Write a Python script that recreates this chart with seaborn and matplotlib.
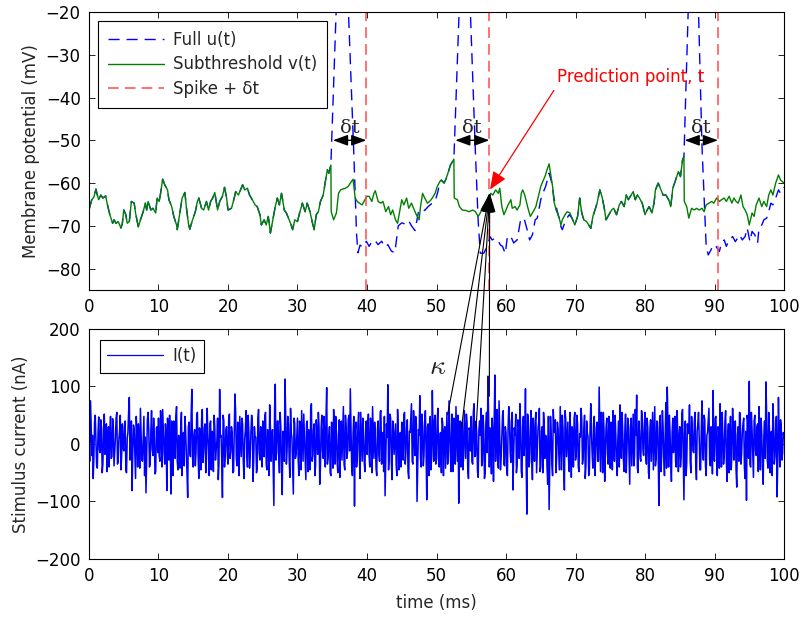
import numpy as np
import pandas as pd
import matplotlib
matplotlib.use("Agg")
import matplotlib.pyplot as plt
import seaborn as sns
from matplotlib.patches import ConnectionPatch

# ---------------- data ----------------
# Subthreshold v(t): (time ms, mV); vertical drops at the spike times
v_trace = [
    (0.0, -66.3), (0.4, -63.9), (0.7, -63.3), (1.0, -61.4), (1.2, -62.8), (1.4, -63.9), (1.7, -62.8),
    (2.0, -63.5), (2.4, -63.0), (2.6, -64.7), (3.0, -67.4), (3.4, -69.4), (3.6, -68.6), (3.9, -69.4),
    (4.2, -69.0), (4.6, -70.5), (4.8, -69.4), (5.0, -66.3), (5.3, -67.4), (5.5, -69.4), (5.8, -69.0),
    (6.1, -64.3), (6.5, -64.7), (6.7, -67.0), (7.1, -70.3), (7.4, -68.6), (7.8, -66.7), (8.1, -64.7),
    (8.3, -66.3), (8.5, -64.3), (8.9, -66.3), (9.2, -65.9), (9.6, -67.0), (9.8, -63.5), (10.1, -64.3),
    (10.3, -62.4), (10.6, -59.1), (10.9, -60.4), (11.3, -61.6), (11.5, -63.9), (11.9, -65.5), (12.2, -67.8),
    (12.6, -69.8), (12.7, -70.9), (13.0, -67.8), (13.4, -63.5), (13.8, -62.2), (14.0, -65.5), (14.3, -69.4),
    (14.5, -70.8), (14.9, -68.6), (15.3, -66.7), (15.6, -64.3), (15.8, -63.5), (16.2, -65.9), (16.5, -66.3),
    (16.9, -64.3), (17.2, -66.3), (17.5, -64.3), (17.8, -63.5), (18.1, -62.2), (18.5, -66.3), (18.8, -64.3),
    (19.2, -63.1), (19.5, -61.0), (19.8, -63.5), (20.0, -66.3), (20.5, -65.9), (20.9, -63.5), (21.1, -62.0),
    (21.5, -62.8), (21.8, -61.6), (22.1, -60.4), (22.4, -61.6), (22.8, -61.2), (23.1, -62.8), (23.5, -63.9),
    (23.9, -65.1), (24.2, -65.5), (24.6, -67.4), (24.8, -69.8), (25.2, -68.6), (25.5, -69.8), (25.8, -67.8),
    (26.1, -71.7), (26.4, -69.0), (26.8, -65.5), (27.1, -63.5), (27.4, -65.1), (27.7, -62.4), (28.1, -66.3),
    (28.4, -67.0), (28.7, -68.2), (29.0, -69.4), (29.3, -70.9), (29.6, -68.6), (30.0, -69.0), (30.3, -67.0),
    (30.7, -64.7), (31.1, -66.7), (31.4, -64.7), (31.8, -66.7), (32.1, -69.0), (32.4, -70.9), (32.7, -67.4),
    (33.0, -66.7), (33.3, -64.3), (33.7, -62.8), (34.0, -59.7), (34.3, -56.9), (34.5, -57.7), (34.8, -55.8),
    (34.85, -66.7), (35.2, -68.6), (35.6, -67.0), (35.9, -62.4), (36.2, -61.6), (36.5, -61.4), (36.9, -61.2),
    (37.3, -60.8), (37.6, -60.0), (38.0, -59.1), (38.3, -63.5), (38.6, -64.3), (38.9, -64.7), (39.3, -65.1),
    (39.7, -63.9), (40.0, -63.1), (40.3, -63.1), (40.7, -64.3), (41.0, -62.4), (41.2, -61.8), (41.6, -64.3),
    (42.0, -64.7), (42.3, -64.3), (42.7, -66.7), (43.1, -65.5), (43.4, -67.4), (43.7, -66.3), (44.1, -68.6),
    (44.4, -69.4), (44.7, -66.7), (45.0, -63.9), (45.3, -65.1), (45.7, -63.5), (46.0, -65.9), (46.4, -64.7),
    (46.8, -66.3), (47.1, -67.4), (47.5, -68.6), (47.7, -65.5), (48.0, -62.4), (48.3, -63.5), (48.7, -64.7),
    (49.0, -64.3), (49.4, -63.5), (49.8, -62.4), (50.1, -60.8), (50.5, -59.6), (50.7, -59.3), (51.1, -60.0),
    (51.4, -58.9), (51.8, -56.9), (52.0, -55.8), (52.3, -55.0), (52.5, -54.4),
    (52.55, -63.5), (53.0, -63.9), (53.3, -65.5), (53.7, -66.3), (54.2, -66.4), (54.7, -66.7), (55.2, -66.3),
    (55.6, -66.7), (56.0, -67.8), (56.4, -66.7), (56.7, -65.5), (57.1, -64.7), (57.5, -63.5), (57.8, -62.4),
    (58.1, -62.8), (58.5, -61.6), (58.9, -62.4), (59.1, -61.2), (59.4, -65.5), (59.7, -67.4), (60.0, -66.3),
    (60.3, -65.1), (60.7, -63.9), (60.9, -65.9), (61.3, -65.5), (61.6, -66.3), (62.0, -65.1), (62.2, -62.4),
    (62.4, -61.6), (62.7, -62.8), (63.1, -65.5), (63.3, -66.7), (63.5, -67.8), (63.9, -66.7), (64.3, -65.5),
    (64.6, -63.5), (65.0, -60.8), (65.3, -59.6), (65.6, -58.5), (65.9, -56.9), (66.2, -55.5), (66.4, -57.7),
    (66.7, -60.8), (66.9, -64.3), (67.2, -66.3), (67.6, -67.8), (67.9, -69.8), (68.1, -68.6), (68.5, -67.4),
    (68.8, -66.7), (69.2, -67.0), (69.5, -68.2), (69.9, -69.8), (70.3, -67.8), (70.6, -63.5), (70.9, -67.0),
    (71.2, -68.6), (71.6, -69.0), (71.9, -69.8), (72.2, -70.6), (72.5, -67.8), (72.8, -66.3), (73.1, -64.7),
    (73.5, -61.6), (73.8, -63.1), (74.1, -65.5), (74.4, -68.6), (74.8, -67.4), (75.2, -66.3), (75.5, -65.9),
    (75.9, -67.4), (76.3, -65.1), (76.6, -64.3), (77.0, -65.5), (77.3, -62.8), (77.6, -63.9), (77.9, -63.1),
    (78.3, -62.0), (78.6, -63.9), (78.9, -62.8), (79.2, -63.5), (79.6, -64.7), (80.0, -67.4), (80.3, -66.3),
    (80.6, -65.5), (81.0, -67.0), (81.3, -64.7), (81.5, -61.6), (81.9, -60.0), (82.3, -61.6), (82.6, -62.8),
    (83.0, -62.8), (83.4, -63.9), (83.7, -65.5), (84.0, -61.2), (84.4, -59.3), (84.8, -57.3), (85.1, -58.5),
    (85.4, -54.6), (85.6, -53.8),
    (85.65, -64.3), (86.0, -65.5), (86.3, -68.2), (86.7, -65.9), (87.1, -66.3), (87.4, -65.9), (87.8, -66.3),
    (88.2, -65.9), (88.5, -66.7), (88.8, -65.1), (89.2, -64.7), (89.6, -64.3), (89.9, -64.7), (90.3, -63.5),
    (90.7, -64.3), (91.0, -63.9), (91.4, -63.5), (91.7, -64.3), (92.1, -63.1), (92.5, -64.7), (92.8, -63.5),
    (93.1, -64.3), (93.4, -64.7), (93.8, -62.8), (94.1, -65.5), (94.4, -66.3), (94.7, -67.4), (95.0, -69.8),
    (95.4, -67.0), (95.7, -67.8), (96.0, -65.1), (96.4, -63.5), (96.8, -65.5), (97.1, -64.3), (97.5, -65.5),
    (97.8, -62.8), (98.1, -61.6), (98.4, -62.8), (98.8, -60.0), (99.2, -58.1), (99.5, -59.3), (100.0, -60.0),
]

# Full u(t) where it departs from v(t): spike + reset and recovery
u_spike1 = [
    (34.8, -55.8), (36.4, 20.0), (38.1, -53.0), (38.5, -72.0), (38.7, -76.3), (39.0, -74.5), (39.4, -75.0),
    (39.9, -73.6), (40.3, -74.8), (40.6, -74.0), (41.1, -73.3), (41.6, -74.4), (42.1, -73.6), (42.6, -75.0),
    (43.0, -74.4), (43.5, -75.9), (44.0, -76.3), (44.5, -70.0), (45.0, -69.3), (45.5, -69.6), (46.0, -68.8),
    (46.4, -70.0), (46.9, -71.1), (47.4, -66.8), (47.9, -66.0), (48.3, -66.4), (48.8, -65.5), (49.3, -64.8),
    (49.8, -64.3), (50.2, -62.0),
]
u_spike2 = [
    (52.5, -54.4), (54.06, 17.0), (55.6, -53.0), (56.0, -69.0), (56.3, -76.4), (56.8, -76.4), (57.3, -74.8),
    (57.7, -72.5), (58.0, -73.3), (58.4, -72.9), (58.8, -73.3), (59.2, -74.5), (59.5, -74.8), (59.9, -76.5),
    (60.2, -72.4), (60.7, -72.5), (61.1, -74.0), (61.6, -73.3), (62.1, -68.6), (62.6, -68.2), (63.1, -71.3),
    (63.4, -73.3), (63.8, -72.1), (64.2, -68.6), (64.5, -68.2), (65.0, -63.9), (65.2, -62.8), (65.7, -60.8),
    (66.2, -57.7), (66.6, -60.0), (66.9, -63.5), (67.4, -66.7), (67.9, -70.2), (68.1, -70.9), (68.6, -68.6),
    (69.1, -67.4), (69.5, -68.2),
]
u_spike3 = [
    (85.6, -53.8), (87.0, 24.0), (88.2, -51.5), (88.6, -67.0), (88.8, -74.8), (89.1, -76.8), (89.5, -75.6),
    (89.8, -74.4), (90.2, -74.8), (90.7, -76.0), (91.0, -74.0), (91.4, -73.3), (91.7, -74.8), (92.1, -73.3),
    (92.6, -72.5), (93.0, -73.7), (93.3, -72.9), (93.6, -72.1), (94.0, -73.3), (94.4, -72.5), (94.7, -70.5),
    (95.1, -73.7), (95.4, -71.3), (95.8, -72.1), (96.2, -74.0), (96.4, -70.5), (96.8, -69.8), (97.1, -68.6),
    (97.5, -68.2), (97.8, -66.7), (98.1, -64.7), (98.4, -65.1), (98.8, -63.5), (99.2, -61.6), (99.5, -62.4),
    (100.0, -61.0),
]

spike_times = [35.1, 52.7, 85.7]          # threshold crossings (start of dt arrows)
spike_plus_dt = [39.9, 57.6, 90.5]        # red dashed lines

# Stimulus current I(t) (nA): samples at t = 0.0, 0.2, ..., 100.0 ms
current_nA = [
    12, 75, -20, -60, 38, 5, -42, 47, -15, 28, -35, 52, -8, -48, 30, 18, -25, 44, -38, 10, 55, -30, 22, -45, 35,
    -12, 40, -50, 20, 81, -5, -81, 33, -18, 48, -40, 15, 62, -28, 8, -55, -85, 42, 25, -35, 58, -20, 10, -48, 30,
    45, -30, 18, 60, -15, 35, -81, 22, 50, -87, 12, 40, -25, 65, -45, 8, 30, -55, 20, 48, -10, -93, 38, -22, 95,
    -40, 25, -15, 55, -60, 10, 42, -32, 28, -50, 62, -8, 35, -45, 18, 50, -28, 5, -62, 95, 15, -93, 40, -20, 30,
    -35, 52, -12, 20, -48, 87, -25, 38, -55, 15, 45, -30, 8, 58, -40, 22, -18, 50, -65, 30, 12, -42, 60, -28, 18,
    40, -22, 55, -45, 15, 68, -30, 25, -107, 104, -15, 40, -50, 30, -88, 20, 113, -35, 48, -25, 62, 10, -87, 35, -18,
    45, -55, 20, 58, -30, 12, -62, 40, 25, -45, 70, -20, 35, -38, 15, 55, -70, 28, -12, 48, -40, 98, -25, 30, -55,
    22, 60, -35, 18, -50, 42, 8, -28, 65, -45, 30, -15, 50, 96, -40, 20, -108, 38, -22, 55, -60, 15, 45, -32, 28,
    -18, 52, -40, 30, 65, -25, 12, -55, 40, -30, 58, 18, -48, -90, 35, 103, -20, 45, -62, 25, 10, -38, 60, -45, 20,
    38, -28, 55, -15, 42, -60, 20, 70, -35, 12, 48, -100, 25, 84, -40, 30, -20, 58, -97, 35, 15, -45, 93, -30, 50,
    -25, 62, -40, 20, 45, -55, 30, 10, -35, 75, -20, 52, -48, 28, 65, -30, -103, 40, 18, -45, 58, -25, 35, -60, 22,
    48, -35, 70, -20, 15, -58, 40, 62, -30, 25, -50, 55, 118, -40, 20, 45, -65, 120, 30, -25, 75, -45, 12, 58, -38,
    20, -55, 65, -15, 40, -80, 28, 52, -35, 15, 70, -48, 30, -20, 96, -122, 45, -30, 58, -62, 18, 40, -50, 25, 62,
    -40, 30, 55, -25, 12, -70, -114, 48, -35, 60, 20, -50, 38, -15, 65, -45, 28, -80, 42, 10, -30, 55, -58, 22, 45,
    -28, 50, -40, 18, 62, -35, 25, -60, 40, 12, -45, 70, -20, 35, -55, 28, -30, 99, -48, 15, 55, -65, 30, -18, 48,
    -42, 25, 58, -30, 15, -55, 40, 68, -25, 20, -48, 52, -12, 35, -70, 45, 10, -38, 60, 85, -50, 22, -30, 48, -20,
    55, -35, 28, -60, 42, 15, -45, 65, -25, 38, -107, 50, -20, 30, -55, 72, 99, -40, 20, -65, 45, 12, -30, 58, -48,
    30, -22, 60, -97, 40, -35, 18, 68, -50, 25, -15, 55, -62, 35, 10, -45, 75, -28, 42, -55, 20, 62, -38, 15, 93,
    -30, 48, -55, 25, 70, -40, 15, -20, 58, -65, 35, 12, -45, 62, -28, 40, -75, 30, 55, -35, 20, 45, -60, -98, 38,
    109, -40, 25, -58, 50, -20, 35, 65, -45, 18, -70, 40, 108, -30, 55, -50, 22, 70, -35, 28, -92, 81, -40, 30, -15, 10,
]
# Stimulus current I(t) (nA): samples at t = 0.1, 0.3, ..., 99.9 ms
current_mid_nA = [
    -30, 40, 15, -25, 50, -38, 20, -10, 42, -50, 25, -18, 35, 5, -40, 48, -22, 30, -12, 45, -35, 8, 50, -20, -5,
    30, -45, 10, 55, -28, 40, -15, 25, -60, 18, 35, -42, 20, -30, 48, 12, -20, 55, -40, 22, -8, 45, -52, 28, -15,
    -20, 58, -40, 25, -35, 12, 45, -28, -10, 40, -55, 20, 48, -30, 15, -42, 55, 10, -38, 25, -50, 30, -15, 52, -25,
    15, -38, 50, -20, 28, -45, 60, -12, 35, -25, 18, -55, 40, 22, -48, 30, -10, 45, -35, 12, -28, 50, -40, 25, -18,
    42, -25, 30, -50, 18, 55, -38, 10, 48, -22, 35, -60, 25, -15, 50, -42, 20, 38, -28, 12, -50, 45, -15, 30, -40,
    -20, 48, -35, 25, -55, 30, 12, -45, 58, -28, 40, -18, 55, -40, 22, -30, 50, -12, 35, -58, 20, -42, 45, -25, 15,
    -28, 40, -45, 15, 52, -22, 35, -48, 12, 60, -30, 25, -55, 42, -18, 30, -40, 50, -25, 18, 45, -35, 10, -50, 38,
    -42, 25, 48, -30, 15, -58, 40, 20, -35, 50, -25, 42, -12, 30, -55, 48, 22, -40, 35, -18, 55, -30, 12, -48, 40,
    30, -20, 45, -50, 18, 38, -42, 25, -15, 55, -35, 20, 48, -28, 12, -45, 52, -30, 40, -18, 35, -55, 22, 15, -40,
    -15, 50, -35, 28, -48, 22, 45, -30, 58, -20, 35, -42, 15, -25, 52, -38, 40, -12, 30, -55, 48, -22, 18, 42, -35,
    40, -28, 18, -50, 35, 22, -42, 55, -15, 30, -48, 12, 45, -35, 20, 50, -25, -40, 38, -20, 15, 52, -45, 28, -12,
    -30, 55, -22, 40, -48, 25, 15, -38, 50, -60, 35, -15, 45, 28, -52, 20, 40, -30, 60, -42, 18, -25, 50, -35, 30,
    -45, 28, 40, -32, 55, -20, 15, -50, 42, -25, 30, -58, 48, 12, -35, 52, -40, 22, -18, 45, -30, 55, -12, 38, -48,
    22, -50, 35, 15, -40, 48, -28, 20, -55, 30, 42, -18, 25, -45, 12, 50, -35, 58, -22, 38, -48, 15, 30, -40, 55,
    -20, 35, -48, 12, 42, -25, 50, -38, 20, -55, 30, 15, -42, 48, -18, 38, -30, 22, 55, -50, 25, -12, 45, -35, 18,
    38, -45, 20, 50, -28, 12, -40, 35, 55, -30, 22, -50, 45, -15, 28, -38, 52, -20, 15, -42, 40, -25, 58, -10, 30,
    -18, 45, -50, 22, -30, 55, 12, -38, 40, -20, 28, -48, 58, -25, 15, -42, 35, 50, -30, 20, -15, 48, -40, 25, 10,
    -40, 52, -25, 18, -55, 35, 20, -30, 48, -12, 40, -35, 22, 55, -45, 28, -18, 50, -38, 15, 42, -28, 30, -52, -20,
    45, -15, 30, -42, 20, 55, -35, 40, -25, 12, -50, 48, -20, 28, 38, -45, 15, -30, 52, -18, 35, -40, 22, 50, -25,
    -35, 55, -20, 40, -12, 30, -48, 22, 45, -38, 15, -25, 50, -42, 28, 18, -55, 35, -22, 48, -30, 12, 42, -28, 20,
]
sample_step_ms = 0.1

# kappa filter lines: start points in the current panel, end at the prediction point
kappa_t = [51.6, 53.6, 55.7, 57.6]
kappa_i = [51, 28, 28, 83]
pred_point = (57.65, -62.3)

x_ticks = list(range(0, 101, 10))
v_ticks = [-80, -70, -60, -50, -40, -30, -20]
i_ticks = [-200, -100, 0, 100, 200]

# ---------------- assemble frames ----------------
v_df = pd.DataFrame(v_trace, columns=["t", "v"])


def v_between(lo, hi):
    return [p for p in v_trace if lo < p[0] < hi]


u_trace = (v_between(-1, 34.8) + u_spike1 + v_between(50.2, 52.5) + u_spike2
           + v_between(69.5, 85.6) + u_spike3)
u_df = pd.DataFrame(u_trace, columns=["t", "u"])

i_vals = []
for a, b in zip(current_nA[:-1], current_mid_nA):
    i_vals += [a, b]
i_vals.append(current_nA[-1])
i_df = pd.DataFrame({"t": np.arange(len(i_vals)) * sample_step_ms, "i": i_vals})

# ---------------- style ----------------
sns.set_style("ticks")
plt.rcParams.update({
    "font.family": ["DejaVu Sans"],
    "font.size": 12,
    "xtick.direction": "in", "ytick.direction": "in",
    "xtick.top": True, "ytick.right": True,
    "xtick.major.size": 4, "ytick.major.size": 4,
    "xtick.major.width": 0.6, "ytick.major.width": 0.6,
    "xtick.major.pad": 6, "ytick.major.pad": 6,
    "xtick.labelsize": 12, "ytick.labelsize": 12,
    "axes.linewidth": 0.8, "axes.edgecolor": "black",
    "xtick.color": "black", "ytick.color": "black",
    "mathtext.fontset": "cm",
})

BLUE = "#0000ff"
GREEN = "#007f00"
RED = "#ff4a4a"

fig = plt.figure(figsize=(8.01, 6.17), dpi=100)
ax1 = fig.add_axes([0.1111, 0.5300, 0.8677, 0.4506])
ax2 = fig.add_axes([0.1111, 0.0940, 0.8677, 0.3728])

# ---- top panel ----
sns.lineplot(data=u_df, x="t", y="u", ax=ax1, color=BLUE, linewidth=1.0,
             sort=False, estimator=None)
line_u = ax1.lines[-1]
line_u.set_linestyle((0, (8, 5)))
sns.lineplot(data=v_df, x="t", y="v", ax=ax1, color=GREEN, linewidth=1.0,
             sort=False, estimator=None)
line_v = ax1.lines[-1]
red_lines = [ax1.axvline(x, color=RED, lw=1.1, ls=(0, (7, 4))) for x in spike_plus_dt]

ax1.set_xlim(0, 100)
ax1.set_ylim(-85, -20)
ax1.set_xticks(x_ticks)
ax1.set_yticks(v_ticks)
ax1.set_xlabel("")
ax1.set_ylabel("Membrane potential (mV)", fontsize=12)

for s, e in zip(spike_times, spike_plus_dt):
    ax1.annotate("", xy=(e, -50), xytext=(s, -50),
                 arrowprops=dict(arrowstyle="<|-|>,head_length=0.6,head_width=0.22",
                                 mutation_scale=15, color="black", lw=1.0,
                                 shrinkA=0, shrinkB=0))
    ax1.text((s + e) / 2, -49.2, "δt", ha="center", va="bottom", fontsize=14,
             family=["DejaVu Serif"])

ax1.annotate("Prediction point, t", xy=(pred_point[0] + 0.05, pred_point[1] + 0.8),
             xytext=(67.3, -35.2), color="red", fontsize=12, ha="left", va="center",
             arrowprops=dict(arrowstyle="-|>,head_length=0.6,head_width=0.25",
                             mutation_scale=18, color="red", lw=0.9,
                             shrinkA=1, shrinkB=0, relpos=(0, 0)))

leg1 = ax1.legend([line_u, line_v, red_lines[0]],
                  ["Full u(t)", "Subthreshold v(t)", "Spike + δt"],
                  loc="upper left", frameon=True, fancybox=False, framealpha=1,
                  edgecolor="black", fontsize=12, handlelength=3.35,
                  handletextpad=0.55, borderpad=0.6, labelspacing=0.38,
                  borderaxespad=0.55)
leg1.get_frame().set_linewidth(0.8)

# ---- bottom panel ----
sns.lineplot(data=i_df, x="t", y="i", ax=ax2, color=BLUE, linewidth=1.1,
             sort=False, estimator=None)
line_i = ax2.lines[-1]
ax2.set_xlim(0, 100)
ax2.set_ylim(-200, 200)
ax2.set_xticks(x_ticks)
ax2.set_yticks(i_ticks)
ax2.set_xlabel("time (ms)", fontsize=12, labelpad=6)
ax2.set_ylabel("Stimulus current (nA)", fontsize=12)
leg2 = ax2.legend([line_i], ["I(t)"], loc="upper left", frameon=True, fancybox=False,
                  framealpha=1, edgecolor="black", fontsize=12, handlelength=3.35,
                  handletextpad=0.55, borderpad=0.45, borderaxespad=0.65)
leg2.get_frame().set_linewidth(0.8)
leg2.get_lines()[0].set_linewidth(0.9)

ax2.text(50.1, 135, r"$\kappa$", ha="center", va="center", fontsize=20)

for kt, ki in zip(kappa_t, kappa_i):
    con = ConnectionPatch(xyA=(kt, ki), coordsA=ax2.transData,
                          xyB=pred_point, coordsB=ax1.transData,
                          arrowstyle="-|>,head_length=0.55,head_width=0.17",
                          mutation_scale=22, color="black", lw=0.8,
                          shrinkA=0, shrinkB=0)
    fig.add_artist(con)

fig.savefig("out.png", dpi=100)
